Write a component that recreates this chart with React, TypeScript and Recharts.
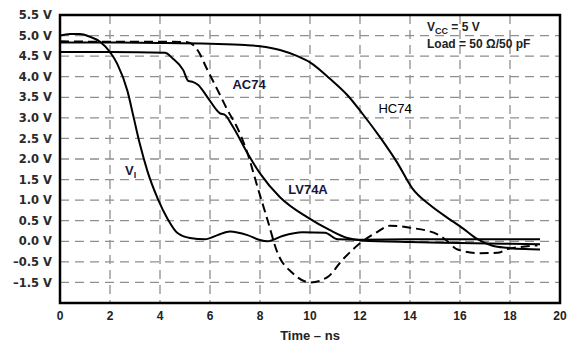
import React from 'react';
import { LineChart, Line, XAxis, YAxis, CartesianGrid, ReferenceArea, ReferenceDot } from 'recharts';

// Time axis (ns)
const X_TICKS = [0, 2, 4, 6, 8, 10, 12, 14, 16, 18, 20];
// Vertical axis positions and their printed labels (the original figure labels its bottom line "-1.5 V")
const Y_TICKS = [5.5, 5.0, 4.5, 4.0, 3.5, 3.0, 2.5, 2.0, 1.5, 1.0, 0.5, 0.0, -0.5, -1.0];
const Y_TICK_LABELS = ['5.5 V', '5.0 V', '4.5 V', '4.0 V', '3.5 V', '3.0 V', '2.5 V', '2.0 V', '1.5 V', '1.0 V', '0.5 V', '0.0 V', '\u20130.5 V', '\u20131.5 V'];

// V_I (input)
const VI_T = [0, 0.4, 0.8, 1.2, 1.6, 2.0, 2.3, 2.7, 2.95, 3.2, 3.5, 3.9, 4.3, 4.7, 5.2, 5.8, 6.3, 6.8, 7.5, 8.0, 8.3, 8.9, 9.7, 10.6, 11.1, 12.0, 14.0, 16.0, 18.0, 19.2];
const VI_V = [5.0, 5.04, 5.04, 4.97, 4.85, 4.6, 4.3, 3.65, 3.0, 2.35, 1.7, 1.05, 0.55, 0.2, 0.08, 0.05, 0.15, 0.24, 0.15, 0.03, 0.0, 0.13, 0.22, 0.21, 0.05, 0.04, 0.05, 0.05, 0.05, 0.05];

// AC74 (dashed)
const AC_T = [0, 2, 4, 5.1, 5.5, 5.9, 6.3, 6.7, 7.1, 7.5, 7.9, 8.3, 8.7, 9.3, 10.0, 10.7, 11.3, 12.0, 12.7, 13.2, 14.0, 15.1, 15.5, 15.9, 16.8, 17.5, 17.9, 18.4, 19.1];
const AC_V = [4.86, 4.85, 4.85, 4.84, 4.65, 4.16, 3.68, 3.19, 2.75, 2.14, 1.32, 0.52, -0.28, -0.77, -1.0, -0.87, -0.45, -0.05, 0.23, 0.38, 0.33, 0.17, 0.0, -0.2, -0.29, -0.28, -0.19, -0.14, -0.1];

// LV74A
const LV_T = [0, 2, 4.2, 4.5, 4.93, 5.13, 5.33, 5.53, 5.9, 6.4, 6.6, 6.9, 7.5, 8.0, 8.8, 9.9, 10.8, 11.5, 12.1, 14.0, 16.0, 18.0, 19.2];
const LV_V = [4.6, 4.6, 4.58, 4.45, 4.16, 3.9, 3.87, 3.8, 3.5, 3.11, 3.07, 2.8, 2.14, 1.65, 1.07, 0.58, 0.27, 0.08, 0.02, -0.02, -0.04, -0.06, -0.07];

// HC74
const HC_T = [0, 2, 4, 6, 7.4, 8.0, 8.8, 9.5, 10.0, 10.8, 11.5, 12.1, 12.8, 13.5, 14.1, 14.8, 15.5, 16.1, 16.7, 17.3, 17.9, 18.6, 19.2];
const HC_V = [4.83, 4.83, 4.82, 4.8, 4.77, 4.74, 4.65, 4.5, 4.35, 3.95, 3.55, 3.1, 2.53, 1.9, 1.28, 0.88, 0.57, 0.32, 0.05, -0.11, -0.16, -0.19, -0.2];

const toData = (ts: number[], vs: number[]) => ts.map((t, i) => ({ t, v: vs[i] }));

const viData = toData(VI_T, VI_V);
const acData = toData(AC_T, AC_V);
const lvData = toData(LV_T, LV_V);
const hcData = toData(HC_T, HC_V);

const FONT = '"Liberation Sans", Arial, sans-serif';
const LABEL_COLOR = '#16163a';

const textShape = (content: React.ReactNode, anchor: string, bold = true, size = 13, color = LABEL_COLOR) =>
  (p: any) => (
    <text x={p.cx} y={p.cy} textAnchor={anchor as any} fontFamily={FONT} fontSize={size}
      fontWeight={bold ? 'bold' : 'normal'} fill={color}>
      {content}
    </text>
  );

export default function App() {
  return (
    <div style={{ position: 'absolute', left: 0, top: 0, width: 580, height: 353, background: '#fff' }}>
      <LineChart width={580} height={353} margin={{ top: 15, right: 20, bottom: 8, left: 0 }}>
        <CartesianGrid stroke="#8f8f8f" strokeWidth={1.3} strokeDasharray="9 6" />
        <XAxis
          type="number"
          dataKey="t"
          domain={[0, 20]}
          ticks={X_TICKS}
          interval={0}
          tickLine={false}
          axisLine={false}
          height={42}
          tick={{ fill: '#222', fontSize: 12, fontWeight: 'bold', fontFamily: FONT }}
          label={{ value: 'Time \u2013 ns', position: 'insideBottom', offset: 5, fill: '#222', fontSize: 13, fontWeight: 'bold', fontFamily: FONT }}
        />
        <YAxis
          type="number"
          dataKey="v"
          domain={[-1.5, 5.5]}
          ticks={Y_TICKS}
          interval={0}
          width={60}
          tickLine={false}
          axisLine={false}
          tickFormatter={(_v: number, i: number) => Y_TICK_LABELS[i]}
          tick={{ fill: '#2a2a2a', fontSize: 11.5, fontWeight: 'bold', fontFamily: '"DejaVu Sans", sans-serif' }}
        />
        <ReferenceArea x1={0} x2={20} y1={-1.5} y2={5.5} fill="none" stroke="#000" strokeWidth={2.5} />
        <Line data={hcData} dataKey="v" type="monotone" stroke="#000" strokeWidth={2} dot={false} isAnimationActive={false} />
        <Line data={lvData} dataKey="v" type="monotone" stroke="#000" strokeWidth={2} dot={false} isAnimationActive={false} />
        <Line data={acData} dataKey="v" type="monotone" stroke="#000" strokeWidth={2} strokeDasharray="9 5" dot={false} isAnimationActive={false} />
        <Line data={viData} dataKey="v" type="monotone" stroke="#000" strokeWidth={2} dot={false} isAnimationActive={false} />

        <ReferenceDot x={14.68} y={5.11} r={0} shape={textShape(
          <>
            <tspan>V</tspan>
            <tspan fontSize={9} dy={3}>CC</tspan>
            <tspan dy={-3}> = 5 V</tspan>
          </>, 'start', true, 12, '#222')} />
        <ReferenceDot x={14.68} y={4.69} r={0} shape={textShape('Load = 50 \u03A9/50 pF', 'start', true, 12, '#222')} />
        <ReferenceDot x={7.56} y={3.7} r={0} shape={textShape('AC74', 'middle')} />
        <ReferenceDot x={13.4} y={3.13} r={0} shape={textShape('HC74', 'middle', false, 13, '#000')} />
        <ReferenceDot x={9.92} y={1.15} r={0} shape={textShape('LV74A', 'middle')} />
        <ReferenceDot x={2.6} y={1.62} r={0} shape={textShape(
          <>
            <tspan>V</tspan>
            <tspan fontSize={9} dy={3}>I</tspan>
          </>, 'start')} />
      </LineChart>
    </div>
  );
}
